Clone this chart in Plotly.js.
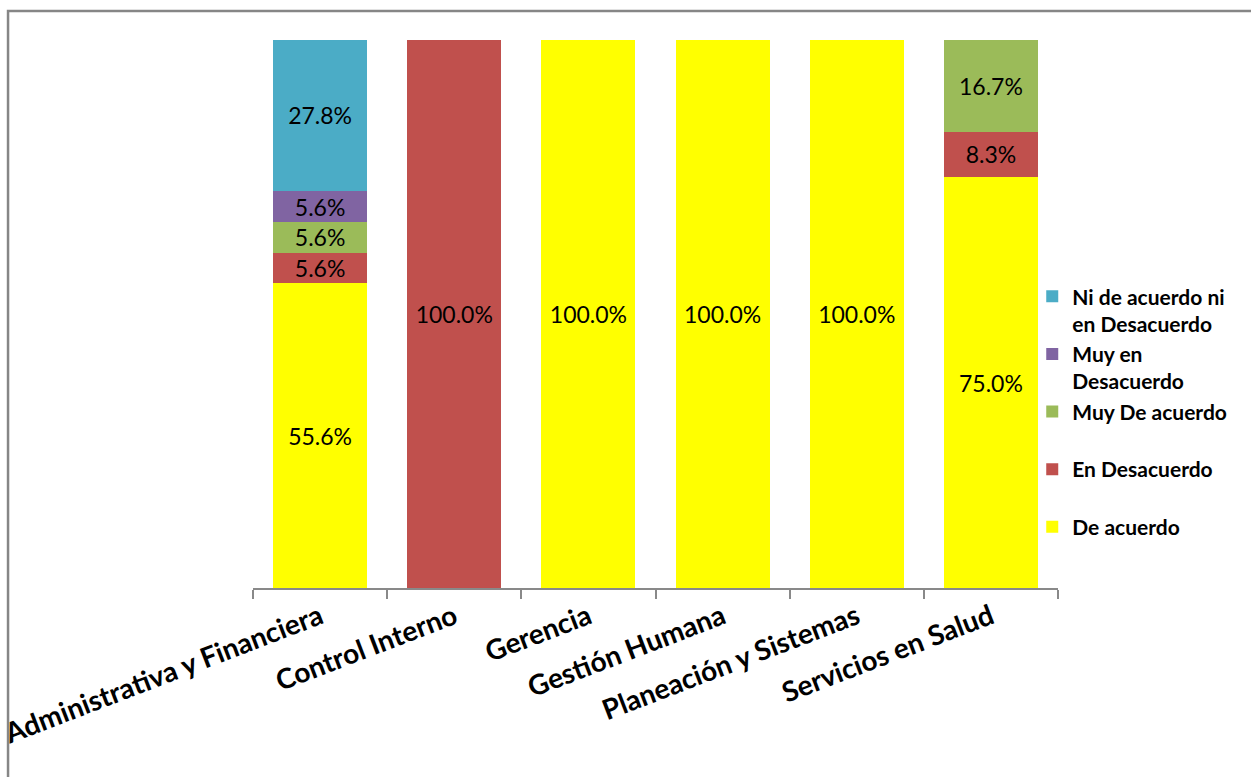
<!DOCTYPE html>
<html>
<head>
<meta charset="utf-8">
<script src="https://cdn.plot.ly/plotly-3.0.1.min.js"></script>
<style>html,body{margin:0;padding:0;background:#fff;}#chart{width:1251px;height:777px;}</style>
</head>
<body>
<div id="chart"></div>
<script>
const categories = ["Administrativa y Financiera", "Control Interno", "Gerencia", "Gestión Humana", "Planeación y Sistemas", "Servicios en Salud"];
const deAcuerdo = [55.6, 0, 100, 100, 100, 75.0];
const enDesacuerdo = [5.6, 100, 0, 0, 0, 8.3];
const muyDeAcuerdo = [5.6, 0, 0, 0, 0, 16.7];
const muyEnDesacuerdo = [5.6, 0, 0, 0, 0, 0];
const niDeAcuerdo = [27.8, 0, 0, 0, 0, 0];

const seriesNames = ["De acuerdo", "En Desacuerdo", "Muy De acuerdo", "Muy en<br>Desacuerdo", "Ni de acuerdo ni<br>en Desacuerdo"];
const seriesValues = [deAcuerdo, enDesacuerdo, muyDeAcuerdo, muyEnDesacuerdo, niDeAcuerdo];
const seriesColors = ["#FFFF00", "#C0504D", "#9BBB59", "#8064A2", "#4BACC6"];

const traces = seriesNames.map((name, i) => ({
  type: 'bar',
  name: (name.indexOf('<br>') >= 0) ? name : name + '<br> ',
  legendgroup: 'g' + i,
  x: categories,
  y: seriesValues[i].map(v => v === 0 ? null : v),
  marker: {color: seriesColors[i], line: {width: 0}},
  text: seriesValues[i].map(v => v === 0 ? '' : v.toFixed(1) + '%'),
  texttemplate: '%{text}',
  textposition: 'inside',
  insidetextanchor: 'middle',
  constraintext: 'none',
  textfont: {family: 'Lato, sans-serif', size: 23, color: '#000'},
  hoverinfo: 'x+y+name'
}));

const layout = {
  width: 1251, height: 777,
  margin: {l: 253, r: 193, t: 40, b: 189},
  paper_bgcolor: '#fff', plot_bgcolor: '#fff',
  barmode: 'stack',
  bargap: 0.3,
  showlegend: true,
  legend: {
    xref: 'paper', yref: 'paper',
    x: 0.968, y: 0.569, xanchor: 'left', yanchor: 'top',
    traceorder: 'reversed',
    valign: 'top',
    tracegroupgap: 0,
    bgcolor: 'rgba(0,0,0,0)',
    font: {family: 'Lato, sans-serif', size: 21, color: '#000', weight: 'bold'},
    itemwidth: 30
  },
  xaxis: {
    type: 'category',
    tickangle: -21,
    tickfont: {family: 'Lato, sans-serif', size: 28, color: '#000', weight: 'bold'},
    showline: true, linecolor: '#898989', linewidth: 2,
    ticks: 'outside', ticklen: 9, tickcolor: '#898989', tickwidth: 2,
    tickson: 'boundaries',
    showgrid: false, zeroline: false,
    automargin: false
  },
  yaxis: {
    range: [0, 100],
    visible: false,
    showgrid: false, zeroline: false
  },
  shapes: [{
    type: 'rect', xref: 'paper', yref: 'paper',
    x0: -0.3043, x1: 1.7, y0: -0.5, y1: 1.0529,
    line: {color: '#868686', width: 2.5}, fillcolor: 'rgba(0,0,0,0)', layer: 'below'
  }]
};

Plotly.newPlot('chart', traces, layout, {displayModeBar: false, staticPlot: true});
</script>
</body>
</html>
